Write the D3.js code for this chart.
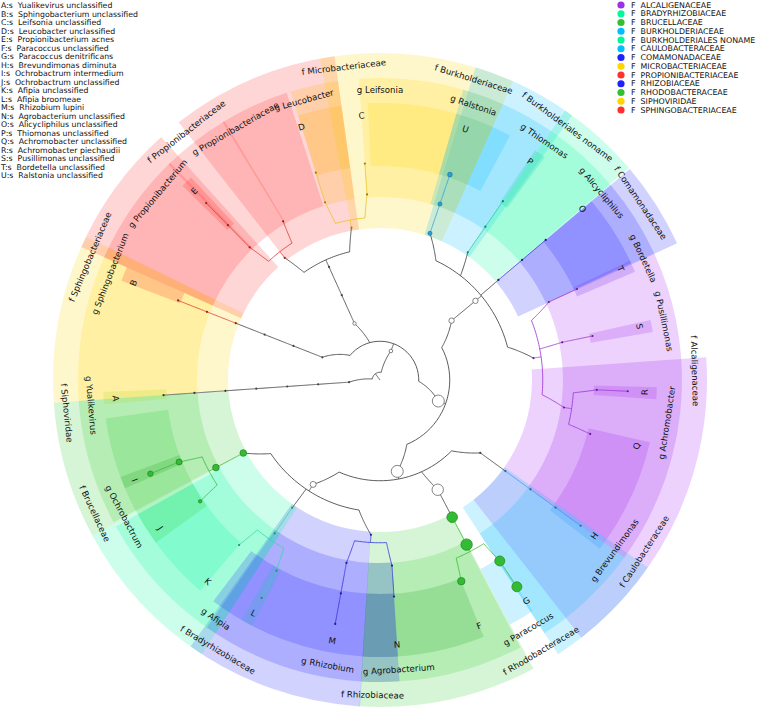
<!DOCTYPE html>
<html><head><meta charset="utf-8">
<script src="https://cdn.jsdelivr.net/npm/d3@7"></script>
<style>body{margin:0;background:#fff}svg{display:block}text{font-family:"DejaVu Sans",sans-serif}</style>
</head><body>
<svg id="chart" width="758" height="709"></svg>
<script>
// ---------------- data ----------------
const speciesLetters = ["A","B","C","D","E","F","G","H","I","J","K","L","M","N","O","P","Q","R","S","T","U"];
const speciesNames = ["Yualikevirus unclassified","Sphingobacterium unclassified","Leifsonia unclassified","Leucobacter unclassified","Propionibacterium acnes","Paracoccus unclassified","Paracoccus denitrificans","Brevundimonas diminuta","Ochrobactrum intermedium","Ochrobactrum unclassified","Afipia unclassified","Afipia broomeae","Rhizobium lupini","Agrobacterium unclassified","Alicycliphilus unclassified","Thiomonas unclassified","Achromobacter unclassified","Achromobacter piechaudii","Pusillimonas unclassified","Bordetella unclassified","Ralstonia unclassified"];

const familyNames = ["ALCALIGENACEAE","BRADYRHIZOBIACEAE","BRUCELLACEAE","BURKHOLDERIACEAE","BURKHOLDERIALES NONAME","CAULOBACTERACEAE","COMAMONADACEAE","MICROBACTERIACEAE","PROPIONIBACTERIACEAE","RHIZOBIACEAE","RHODOBACTERACEAE","SIPHOVIRIDAE","SPHINGOBACTERIACEAE"];
const familyColors = ["#9b30e8","#00fa9a","#32c032","#00bfff","#00fa9a","#00bfff","#2020ff","#ffd700","#ff3030","#2020ff","#32c032","#ffd700","#ff3030"];

// leaves of the tree (lineage, angle in degrees)
const leafLineages = [
 "Viruses|Viruses_p|Viruses_c|Viruses_o|Siphoviridae|Yualikevirus|A",
 "Bacteria|Bacteroidetes|Sphingobacteriia|Sphingobacteriales|Sphingobacteriaceae|Sphingobacterium|B",
 "Bacteria|Actinobacteria|Actinobacteria_c|Actinomycetales|Propionibacteriaceae|Propionibacterium|E|E_t",
 "Bacteria|Actinobacteria|Actinobacteria_c|Actinomycetales|Propionibacteriaceae|Propionibacteriaceae_g",
 "Bacteria|Actinobacteria|Actinobacteria_c|Actinomycetales|Microbacteriaceae|Leucobacter|D",
 "Bacteria|Actinobacteria|Actinobacteria_c|Actinomycetales|Microbacteriaceae|Leifsonia|C",
 "Bacteria|Proteobacteria|Betaproteobacteria|Burkholderiales|Burkholderiaceae|Ralstonia|U",
 "Bacteria|Proteobacteria|Betaproteobacteria|Burkholderiales|Burkholderiales_noname|Thiomonas|P",
 "Bacteria|Proteobacteria|Betaproteobacteria|Burkholderiales|Comamonadaceae|Alicycliphilus|O",
 "Bacteria|Proteobacteria|Betaproteobacteria|Burkholderiales|Alcaligenaceae|Bordetella|T",
 "Bacteria|Proteobacteria|Betaproteobacteria|Burkholderiales|Alcaligenaceae|Pusillimonas|S",
 "Bacteria|Proteobacteria|Betaproteobacteria|Burkholderiales|Alcaligenaceae|Achromobacter|R|R_t",
 "Bacteria|Proteobacteria|Betaproteobacteria|Burkholderiales|Alcaligenaceae|Achromobacter|Q",
 "Bacteria|Proteobacteria|Alphaproteobacteria|Caulobacterales|Caulobacteraceae|Brevundimonas|H|H_t",
 "Bacteria|Proteobacteria|Alphaproteobacteria|Rhodobacterales|Rhodobacteraceae|Paracoccus|G|G_t",
 "Bacteria|Proteobacteria|Alphaproteobacteria|Rhodobacterales|Rhodobacteraceae|Paracoccus|F",
 "Bacteria|Proteobacteria|Alphaproteobacteria|Rhizobiales|Rhizobiaceae|Agrobacterium|N",
 "Bacteria|Proteobacteria|Alphaproteobacteria|Rhizobiales|Rhizobiaceae|Rhizobium|M|M_t",
 "Bacteria|Proteobacteria|Alphaproteobacteria|Rhizobiales|Bradyrhizobiaceae|Afipia|L|L_t",
 "Bacteria|Proteobacteria|Alphaproteobacteria|Rhizobiales|Bradyrhizobiaceae|Afipia|K",
 "Bacteria|Proteobacteria|Alphaproteobacteria|Rhizobiales|Brucellaceae|Ochrobactrum|J",
 "Bacteria|Proteobacteria|Alphaproteobacteria|Rhizobiales|Brucellaceae|Ochrobactrum|I|I_t"
];
const leafAngles = [266,291.5,315.5,328.6,342.8,356,378.8,394.5,409.8,425.2,438.3,452.6,464.4,486,506.5,518,536.3,550.4,568.5,580.5,596,607.8];

// families whose branches are coloured
const lineFamilies = ["Sphingobacteriaceae","Propionibacteriaceae","Microbacteriaceae","Burkholderiaceae","Burkholderiales_noname","Comamonadaceae","Alcaligenaceae","Caulobacteraceae","Rhodobacteraceae","Rhizobiaceae","Bradyrhizobiaceae","Brucellaceae"];
const lineColors = ["#e03030","#e03030","#e8c020","#2b9fd8","#20c8a0","#2020d0","#9a30d0","#3399ee","#33bb33","#3030e0","#30d8a0","#33bb33"];

// highlighted clades: clade, label, label angle shift, background sector start / end (deg), colour
const hlNames = ["Siphoviridae","Sphingobacteriaceae","Propionibacteriaceae","Microbacteriaceae","Burkholderiaceae","Burkholderiales_noname","Comamonadaceae","Alcaligenaceae","Caulobacteraceae","Rhodobacteraceae","Rhizobiaceae","Bradyrhizobiaceae","Brucellaceae",
 "Yualikevirus","Sphingobacterium","Propionibacterium","Propionibacteriaceae_g","Leucobacter","Leifsonia","Ralstonia","Thiomonas","Alicycliphilus","Bordetella","Pusillimonas","Achromobacter","Brevundimonas","Paracoccus","Agrobacterium","Rhizobium","Afipia","Ochrobactrum",
 "A","B","E","D","C","U","P","O","T","S","R","Q","H","G","F","N","M","L","K","J","I"];
const hlLabels = ["f Siphoviridae","f Sphingobacteriaceae","f Propionibacteriaceae","f Microbacteriaceae","f Burkholderiaceae","f Burkholderiales noname","f Comamonadaceae","f Alcaligenaceae","f Caulobacteraceae","f Rhodobacteraceae","f Rhizobiaceae","f Bradyrhizobiaceae","f Brucellaceae",
 "g Yualikevirus","g Sphingobacterium","g Propionibacterium","g Propionibacteriaceae","g Leucobacter","g Leifsonia","g Ralstonia","g Thiomonas","g Alicycliphilus","g Bordetella","g Pusillimonas","g Achromobacter","g Brevundimonas","g Paracoccus","g Agrobacterium","g Rhizobium","g Afipia","g Ochrobactrum",
 "A","B","E","D","C","U","P","O","T","S","R","Q","H","G","F","N","M","L","K","J","I"];
const hlLabelShift = [-2,1.5,0,4,-1.5,2,6,6.5,-3,-3,-2,-3.5,3,
 -1,0,-5.5,1.5,2,4,0,0,0,0,0,0,0,-3,0,0,0,0,
 0,0,0,0,0,0,0,0,0,0,0,0,0,0,0,0,0,0,0,0,0];
const hlStart = [266,294,322,349.4,17,34.5,49.8,86,125,152,183.5,213,241.6,
 266,294,315.5,328.6,342.8,356,16,34.5,49.8,65.2,78.3,92,126,152.3,176.3,183.6,213,241.9,
 265,291,314.5,342.8,357.5,16,34,49.8,64.5,77.5,91.5,103,125,146.5,158,176.3,183.6,207.5,220.5,234,247];
const hlEnd = [296,318,352,384,36,49.6,65.3,142,147,183.6,215.4,241.6,266,
 296,316,329,342,352,384,34.5,49.8,65.2,78.3,92,126,147,183.6,183.6,215,241,266,
 267.5,294,317,352,384,28,36.5,65,67,80,94,125,127.5,152,183.6,183.6,217,210,241,262,249.5];
const hlColors = ["#ffd700","#ff3030","#ff3030","#ffd700","#00bfff","#00fa9a","#2020ff","#a020f0","#00bfff","#32cd32","#2020ff","#00fa9a","#32cd32",
 "#ffd700","#ff3030","#ff3030","#ff3030","#ffb000","#ffd700","#00bfff","#00fa9a","#2020ff","#a020f0","#a020f0","#a020f0","#00bfff","#32cd32","#2020ff","#2020ff","#00fa9a","#32cd32",
 "#a8d820","#ff2020","#ff2020","#ffb000","#ffd700","#00bfff","#00c8a0","#2020ff","#7020f0","#a020f0","#a020f0","#a020f0","#1e90ff","#00bfff","#20a020","#2020ff","#2020ff","#20c0c0","#00fa9a","#32cd32","#20a020"];

// node markers: name, radius, fill
const markNames = ["Bacteria","Actinobacteria","Proteobacteria","Betaproteobacteria","Burkholderiales","Alphaproteobacteria","Rhodobacterales","Rhizobiales",
 "Rhodobacteraceae","Paracoccus","G","G_t","F","Brucellaceae","Ochrobactrum","I","I_t","J","Burkholderiaceae","Ralstonia","U"];
const markRadii = [1.8,1.7,6,2.7,2.7,6,5.7,3,5.3,5.7,5,5,3.7,3.3,3.3,3,2.7,1.7,2,2,2.3];
const markFills = ["#fff","#fff","#fff","#fff","#fff","#fff","#fff","#fff",
 "#33bb33","#33bb33","#33bb33","#33bb33","#33bb33","#33bb33","#33bb33","#33bb33","#33bb33","#33bb33","#2aa0d8","#2aa0d8","#2aa0d8"];

// ---------------- layout ----------------
const cx = 380, cy = 380;
const svg = d3.select("#chart");
const ang = d3.scaleLinear().domain([0, 360]).range([0, 2 * Math.PI]);
const rad = d3.scaleLinear().domain([0, 8]).range([0, 248]);
const bandOuter = {5: 327, 6: 302, 7: 277};
const labelRadius = {5: 315, 6: 290, 7: 265};

// build hierarchy
const nodes = new Map();
nodes.set("root", {id: "root", name: "root", children: []});
leafLineages.forEach((lin, i) => {
  const parts = lin.split("|");
  let parent = nodes.get("root");
  parts.forEach((p, d) => {
    const id = parts.slice(0, d + 1).join("|");
    if (!nodes.has(id)) { const n = {id, name: p, children: []}; nodes.set(id, n); parent.children.push(n); }
    parent = nodes.get(id);
  });
  parent.theta = leafAngles[i];
});
const root = d3.hierarchy(nodes.get("root"), d => d.children.length ? d.children : null);
root.eachAfter(n => {
  if (n.children) {
    const th = n.children.map(c => c.data.theta);
    n.data.theta = (d3.min(th) + d3.max(th)) / 2;
  }
  n.data.r = rad(n.depth);
});
const byName = new Map(); root.each(n => byName.set(n.data.name, n));
const familyOf = n => n.ancestors().find(a => a.depth === 5);

const g = svg.append("g").attr("transform", `translate(${cx},${cy})`);

// ---------------- highlight sectors ----------------
const arcGen = d3.arc();
const wedges = hlNames.map((nm, i) => {
  const n = byName.get(nm);
  return {n, label: hlLabels[i], shift: hlLabelShift[i], s: hlStart[i], e: hlEnd[i], color: hlColors[i], lv: Math.min(n.depth, 7)};
});
const wg = g.append("g");
[5, 6, 7].forEach(lv => {
  wg.selectAll(null).data(wedges.filter(w => w.lv === lv)).enter().append("path")
    .attr("d", w => arcGen({innerRadius: rad(lv) - 3, outerRadius: bandOuter[lv],
      startAngle: ang(w.s), endAngle: ang(w.e)}))
    .attr("fill", w => w.color).attr("fill-opacity", 0.2);
});

// ---------------- tree ----------------
const radial = d3.lineRadial().angle(d => ang(d[0])).radius(d => d[1]);
const polarSeg = (t0, r0, t1, r1) => d3.range(0, 25).map(k => [t0 + (t1 - t0) * k / 24, r0 + (r1 - r0) * k / 24]);
const lineColor = n => {
  const f = familyOf(n);
  if (!f) return "#333";
  const k = lineFamilies.indexOf(f.data.name);
  return k < 0 ? "#555" : lineColors[k];
};
const tg = g.append("g").attr("fill", "none").attr("stroke-width", 0.8);
root.each(p => {
  if (!p.children) return;
  const tp = p.data.theta, rp = p.data.r;
  const rc = rad(p.depth + 1);
  const rb = rp + 0.25 * (rc - rp);
  const col = lineColor(p);
  const bth = p.children.map(c => tp + 0.8 * (c.data.theta - tp));
  tg.append("path").attr("d", radial(polarSeg(tp, rp, tp, rb))).attr("stroke", col);
  tg.append("path").attr("d", radial(polarSeg(d3.min(bth), rb, d3.max(bth), rb))).attr("stroke", col);
  p.children.forEach((c, k) => {
    tg.append("path").attr("d", radial(polarSeg(bth[k], rb, c.data.theta, rc))).attr("stroke", col);
  });
});

// node markers
const pos = n => [n.data.r * Math.sin(ang(n.data.theta)), -n.data.r * Math.cos(ang(n.data.theta))];
const ng = g.append("g");
root.descendants().filter(n => n.depth > 0).forEach(n => {
  const k = markNames.indexOf(n.data.name);
  const [x, y] = pos(n);
  if (k < 0) {
    const lc = lineColor(n);
    ng.append("circle").attr("cx", x).attr("cy", y).attr("r", 1.1).attr("fill", lc === "#333" ? "#444" : d3.color(lc).darker(1.2));
  } else {
    ng.append("circle").attr("cx", x).attr("cy", y).attr("r", markRadii[k]).attr("fill", markFills[k])
      .attr("stroke", markFills[k] === "#fff" ? "#666" : d3.color(markFills[k]).darker(0.8)).attr("stroke-width", 0.8);
  }
});

// ---------------- labels ----------------
const lg = g.append("g").attr("font-size", 8.6).attr("fill", "#111");
wedges.forEach(w => {
  const t = (((w.n.data.theta + w.shift) % 360) + 360) % 360;
  const r = labelRadius[w.lv];
  const x = r * Math.sin(ang(t)), y = -r * Math.cos(ang(t));
  const rot = (t > 90 && t < 270) ? t - 180 : t;
  lg.append("text").attr("transform", `translate(${x},${y}) rotate(${rot})`)
    .attr("text-anchor", "middle").attr("dominant-baseline", "central").text(w.label);
});

// ---------------- legends ----------------
const leg1 = svg.append("g").attr("font-size", 7.8).attr("fill", "#111");
leg1.selectAll("text").data(speciesLetters).enter().append("text")
  .attr("x", 1).attr("y", (d, i) => 8 + i * 8.5).attr("xml:space", "preserve")
  .text((d, i) => `${d}:s  ${speciesNames[i]}`);
const leg2 = svg.append("g");
const ly = d3.scaleLinear().domain([0, 1]).range([5, 13.75]);
leg2.selectAll("circle").data(familyNames).enter().append("circle")
  .attr("cx", 621).attr("cy", (d, i) => ly(i)).attr("r", 3.6).attr("fill", (d, i) => familyColors[i]);
leg2.selectAll("text").data(familyNames).enter().append("text")
  .attr("x", 631).attr("y", (d, i) => ly(i)).attr("dominant-baseline", "central").attr("xml:space", "preserve")
  .attr("font-size", 7.9).attr("fill", "#111").text(d => `F  ${d}`);
</script>
</body></html>
